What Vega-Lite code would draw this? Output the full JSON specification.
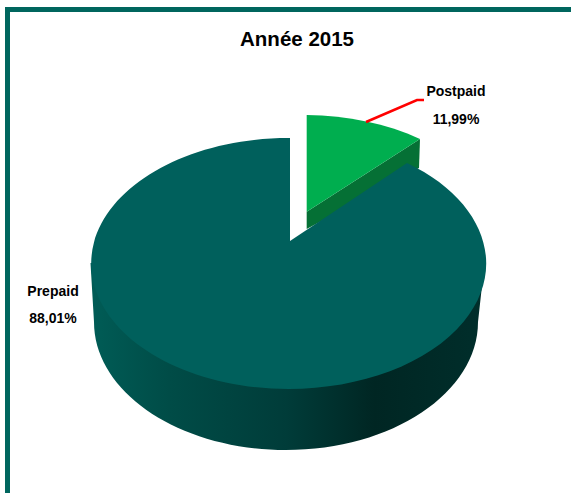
{
"$schema":"https://vega.github.io/schema/vega-lite/v6.json",
"width":571,"height":493,"padding":0,"autosize":{"type":"none"},
"background":"#ffffff","view":{"stroke":null},
"title":{"text":"Année 2015","font":"Liberation Sans","fontWeight":"bold","fontSize":20.5,"color":"#000000","anchor":"middle","baseline":"middle","dx":11.5,"dy":60,"offset":0},
"data":{"values":[{"segment":"Prepaid","share":88.01},{"segment":"Postpaid","share":11.99}]},
"transform":[{"calculate":"datum.segment+'\\n'+replace(format(datum.share,'.2f'),'.',',')+'%'","as":"label"}],
"layer":[
{"transform":[{"filter":"datum.segment==='Prepaid'"}],"mark":{"type":"point","filled":true,"opacity":1,"size":4,"fill":"#00665e","shape":"M-280.5 246.5 L-280.5 -239.5 L285.5 -239.5 L285.5 -234.5 L-275.5 -234.5 L-275.5 246.5 Z"}},
{"transform":[{"filter":"datum.segment==='Prepaid'"}],"mark":{"type":"point","filled":true,"opacity":1,"size":4,
 "fill":{"gradient":"linear","x1":0,"y1":0,"x2":1,"y2":0,"stops":[{"offset":0,"color":"#005c56"},{"offset":0.2,"color":"#004c47"},{"offset":0.5,"color":"#003c39"},{"offset":0.72,"color":"#002623"},{"offset":1,"color":"#002e2b"}]},
 "shape":"M-195 16.5 L-191.5 75.5 A192 128 0 0 0 192.5 75.5 L199 16.5 Z"}},
{"transform":[{"filter":"datum.segment==='Postpaid'"}],"mark":{"type":"point","filled":true,"opacity":1,"size":4,"fill":"#057035","shape":"M21.2 -34.8 L134.5 -107.5 L133.5 -78.5 L21.2 -17.5 Z"}},
{"transform":[{"filter":"datum.segment==='Prepaid'"}],"mark":{"type":"point","filled":true,"opacity":1,"size":4,"fill":"#00605c","shape":"M4.5 -5.5 L4.5 -108.5 A197.5 125.5 0 1 0 121.5 -83.5 Z"}},
{"transform":[{"filter":"datum.segment==='Postpaid'"}],"mark":{"type":"point","filled":true,"opacity":1,"size":4,"fill":"#00ae4f","shape":"M21.2 -131.5 A197.5 125.5 0 0 1 134.5 -107.5 L21.2 -34.8 Z"}},
{"transform":[{"filter":"datum.segment==='Postpaid'"}],"mark":{"type":"point","filled":false,"fill":null,"opacity":1,"size":4,"stroke":"#ff0000","strokeWidth":2.5,"shape":"M80.5 -124.5 L131.5 -146.5 L138.5 -146.5"}},
{"transform":[{"filter":"datum.segment==='Postpaid'"}],"mark":{"type":"text","font":"Liberation Sans","fontWeight":"bold","fontSize":14,"color":"#000000","align":"center","baseline":"middle","lineBreak":"\n","lineHeight":28,"dx":170.5,"dy":-154.5},"encoding":{"text":{"field":"label"}}},
{"transform":[{"filter":"datum.segment==='Prepaid'"}],"mark":{"type":"text","font":"Liberation Sans","fontWeight":"bold","fontSize":14,"color":"#000000","align":"center","baseline":"middle","lineBreak":"\n","lineHeight":27,"dx":-232.5,"dy":45},"encoding":{"text":{"field":"label"}}}
]
}
